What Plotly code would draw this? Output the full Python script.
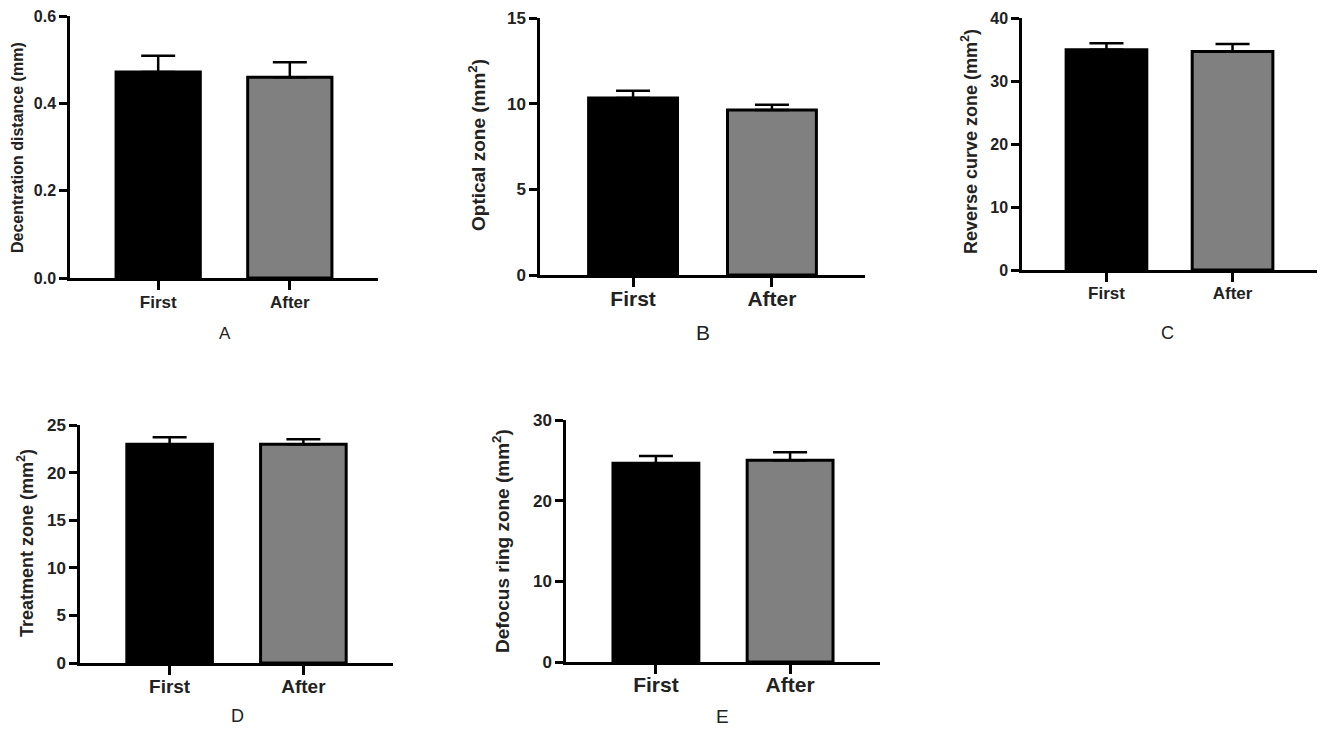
import plotly.graph_objects as go

# the page body adds an 8 px margin, so the figure is drawn 8 px in
FIG_W, FIG_H, OFF = 1309, 718, 8

groups = ["First", "After"]

decentration_mean = [0.472, 0.460]
decentration_err = [0.037, 0.034]

optical_mean = [10.33, 9.63]
optical_err = [0.43, 0.31]

reverse_mean = [34.96, 34.70]
reverse_err = [1.04, 1.16]

treatment_mean = [22.97, 22.97]
treatment_err = [0.74, 0.53]

defocus_mean = [24.64, 25.01]
defocus_err = [0.90, 1.00]

bar_colors = ["#000000", "#808080"]


def px(x):
    return (x - OFF) / FIG_W


def py(y):
    return 1 - (y - OFF) / FIG_H


# panel boxes in screen pixels: left, right, top, bottom
panels = [
    dict(mean=decentration_mean, err=decentration_err, ymax=0.6, dtick=0.2, fmt=".1f",
         box=(70, 378, 16, 278), title="Decentration distance (mm)", tpos=(18, 148),
         letter="A", lpos=(225, 333), font="Liberation Sans, Arial",
         tick=16, xtick=17, tsize=16, lsize=17, stand=-2),
    dict(mean=optical_mean, err=optical_err, ymax=15, dtick=5, fmt="d",
         box=(540, 865, 18, 275), title="Optical zone (mm<sup>2</sup>)", tpos=(477, 145),
         letter="B", lpos=(703, 332), font="Liberation Sans, Arial",
         tick=17, xtick=21, tsize=19, lsize=21, stand=-6),
    dict(mean=reverse_mean, err=reverse_err, ymax=40, dtick=10, fmt="d",
         box=(1022, 1317, 18, 270), title="Reverse curve zone (mm<sup>2</sup>)", tpos=(969, 142),
         letter="C", lpos=(1167, 333), font="Liberation Sans, Arial",
         tick=16, xtick=17, tsize=18, lsize=18, stand=-3),
    dict(mean=treatment_mean, err=treatment_err, ymax=25, dtick=5, fmt="d",
         box=(80, 393, 425, 663), title="Treatment zone (mm<sup>2</sup>)", tpos=(25, 543),
         letter="D", lpos=(237, 716), font="Liberation Sans, Arial",
         tick=17, xtick=19, tsize=18, lsize=18, stand=-5),
    dict(mean=defocus_mean, err=defocus_err, ymax=30, dtick=10, fmt="d",
         box=(566, 880, 420, 662), title="Defocus ring zone (mm<sup>2</sup>)", tpos=(501, 541),
         letter="E", lpos=(722, 716), font="Liberation Sans, Arial",
         tick=17, xtick=21, tsize=19, lsize=19, stand=-7),
]

fig = go.Figure()
annotations = []

for i, p in enumerate(panels, start=1):
    sfx = "" if i == 1 else str(i)
    fig.add_trace(go.Bar(
        x=groups, y=p["mean"],
        xaxis="x" + sfx, yaxis="y" + sfx,
        width=0.64,
        marker=dict(color=bar_colors, line=dict(color="black", width=3)),
        error_y=dict(type="data", symmetric=False, array=p["err"],
                     arrayminus=[0, 0], color="black", thickness=2.5, width=17),
        showlegend=False,
    ))
    l, r, t, b = p["box"]
    fam = p["font"]
    fig.layout["xaxis" + sfx] = dict(
        domain=[px(l), px(r)], anchor="y" + sfx, range=[-0.67, 1.67],
        showline=True, linecolor="black", linewidth=2.5, showgrid=False, zeroline=False,
        ticks="outside", ticklen=9, tickwidth=2.5, tickcolor="black",
        ticklabelstandoff=p["stand"], automargin=False, ticklabeloverflow="allow",
        tickfont=dict(family=fam, size=p["xtick"], color="#222222", weight="bold"),
        fixedrange=True,
    )
    fig.layout["yaxis" + sfx] = dict(
        domain=[py(b), py(t)], anchor="x" + sfx, range=[0, p["ymax"] * 1.0001],
        tickvals=[k * p["dtick"] for k in range(round(p["ymax"] / p["dtick"]) + 1)],
        tickformat=p["fmt"],
        showline=True, linecolor="black", linewidth=2.5, showgrid=False, zeroline=False,
        ticks="outside", ticklen=8, tickwidth=2.5, tickcolor="black",
        automargin=False, ticklabeloverflow="allow",
        tickfont=dict(family=fam, size=p["tick"], color="#222222", weight="bold"),
        fixedrange=True,
    )
    annotations.append(dict(
        text="<b>" + p["title"] + "</b>", x=px(p["tpos"][0]), y=py(p["tpos"][1]),
        xref="paper", yref="paper", textangle=-90, showarrow=False,
        xanchor="center", yanchor="middle",
        font=dict(family=fam, size=p["tsize"], color="#222222"),
    ))
    annotations.append(dict(
        text=p["letter"], x=px(p["lpos"][0]), y=py(p["lpos"][1]),
        xref="paper", yref="paper", showarrow=False,
        xanchor="center", yanchor="middle",
        font=dict(family="Liberation Sans, Arial", size=p["lsize"], color="#222222"),
    ))

fig.update_layout(
    width=FIG_W, height=FIG_H,
    margin=dict(l=0, r=0, t=0, b=0, pad=0),
    paper_bgcolor="white", plot_bgcolor="white",
    annotations=annotations,
)

fig.write_html("out.html")
